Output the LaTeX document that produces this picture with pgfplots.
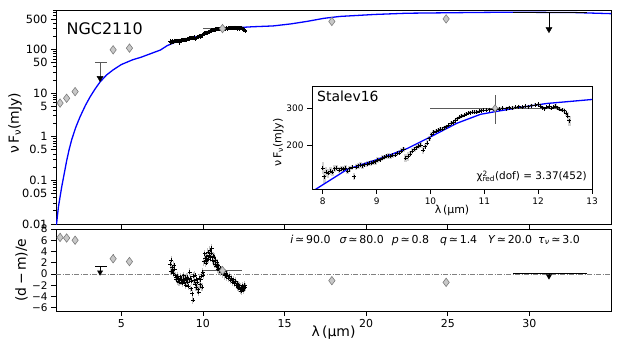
\documentclass[border=0pt]{standalone}
\usepackage{fontspec}
\setmainfont{DejaVu Sans}
\usepackage{pgfplots}
\usepackage{pgfplotstable}
\pgfplotsset{compat=1.18}

\definecolor{ptfill}{RGB}{200,200,200}
\definecolor{ptedge}{RGB}{125,125,125}
\definecolor{barcol}{RGB}{90,90,90}
\definecolor{modelblue}{RGB}{0,0,255}

% model SED
\pgfplotstableread{
lam flux
1.00 0.0092
1.04 0.0105
1.10 0.017
1.15 0.025
1.25 0.042
1.35 0.071
1.50 0.14
1.66 0.29
1.80 0.50
1.96 0.85
2.20 1.6
2.47 2.84
2.80 5.2
3.09 8.2
3.40 12.5
3.70 18
4.10 26
4.50 34
5.00 45
5.70 58
6.20 66
6.80 80
7.40 97
7.81 122
8.46 155
9.01 172
9.57 194
10.00 220
10.49 255
10.93 281
11.23 290
11.67 303
12.16 316
13.00 330
14.30 345
15.40 385
16.40 440
17.40 515
18.40 570
20.50 632
22.50 675
26.60 702
28.70 712
32.70 700
35.00 660
}\model

% Spitzer spectrum: wavelength, flux, error, residual
\pgfplotstableread{
lam flux err res
8.00 157 10 1.8
8.03 143 10 0.5
8.06 150 8 2.5
8.10 148 7 1.2
8.14 152 6 0.6
8.18 150 6 0.1
8.22 156 6 1.6
8.26 157 5 0.9
8.30 153 5 -0.3
8.34 156 5 -0.6
8.38 155 5 -1.0
8.42 157 5 -0.4
8.46 152 5 -1.3
8.50 156 5 -0.8
8.54 158 5 -1.5
8.58 143 5 -1.1
8.62 159 5 -0.5
8.66 161 5 -1.2
8.70 162 5 -0.9
8.74 161 5 -1.7
8.78 163 5 -1.0
8.82 164 5 -0.3
8.86 165 5 -1.4
8.90 166 5 -0.7
8.94 167 5 -2.0
8.98 168 5 -1.2
9.02 171 5 -0.6
9.06 172 5 -1.5
9.10 175 5 -2.2
9.14 176 5 -1.0
9.18 178 5 0.3
9.22 179 5 -0.8
9.26 178 5 -2.6
9.30 180 5 -1.3
9.34 181 5 -3.5
9.38 184 5 -4.6
9.42 185 5 -0.4
9.46 189 5 -1.2
9.50 192 6 -0.2
9.54 175 8 -1.8
9.58 178 8 -2.4
9.62 182 6 -0.9
9.66 188 6 -1.5
9.70 192 6 -2.8
9.74 196 6 -3.3
9.78 199 6 -0.8
9.82 201 6 -1.9
9.86 190 8 -1.0
9.90 198 6 -0.4
9.94 206 6 -2.3
9.98 216 6 0.3
10.02 225 6 -0.2
10.06 232 5 2.2
10.10 234 5 3.6
10.14 236 5 2.8
10.18 239 5 1.9
10.22 240 5 3.1
10.26 243 5 2.5
10.30 246 5 3.9
10.34 250 5 2.7
10.38 255 5 3.4
10.42 257 5 4.3
10.46 262 5 2.9
10.50 268 5 3.7
10.54 272 5 4.6
10.58 276 5 2.4
10.62 278 5 3.2
10.66 282 5 2.2
10.70 284 5 3.0
10.74 286 5 1.7
10.78 287 5 2.5
10.82 288 5 1.4
10.86 288 5 2.0
10.90 290 5 0.9
10.94 292 5 1.5
10.98 293 5 0.6
11.04 295 5 1.0
11.10 296 5 0.3
11.16 297 5 0.7
11.22 299 5 -0.1
11.28 298 5 0.4
11.34 300 5 -0.3
11.40 299 5 0.1
11.46 302 5 -0.5
11.52 301 5 -0.2
11.58 304 5 -0.8
11.64 305 5 -0.4
11.70 303 5 -1.1
11.76 307 5 -0.7
11.82 305 5 -1.4
11.88 309 5 -1.0
11.94 311 5 -1.6
12.00 313 5 -1.3
12.04 308 5 -2.0
12.08 302 5 -1.7
12.12 299 5 -2.3
12.16 304 5 -1.9
12.20 306 5 -2.5
12.24 301 6 -2.1
12.28 303 6 -2.8
12.32 307 6 -2.4
12.36 302 6 -3.0
12.40 298 6 -2.6
12.44 294 7 -2.2
12.48 292 8 -2.9
12.52 285 10 -2.5
12.55 275 12 -2.0
12.58 262 15 -2.3
}\spec

% photometry: wavelength, flux, error, residual, residual error
\pgfplotstableread{
lam flux ferr res rerr
1.25 5.9 0.6 6.5 0.7
1.65 7.6 0.7 6.4 0.7
2.17 10.8 1.0 6.0 0.7
4.50 98 18 2.7 0.8
5.50 107 18 2.2 0.8
17.9 437 40 -1.2 0.6
24.9 500 50 -1.5 0.6
}\phot

\begin{document}
\begin{tikzpicture}
\path[use as bounding box] (0,0) rectangle (623bp,-346bp);
\pgfplotsset{
  every axis/.append style={
    scale only axis,
    /pgf/number format/assume math mode=true,
    axis line style={black, line width=0.9bp},
    tick style={black, line width=0.8bp},
    major tick length=5bp, minor tick length=2.5bp,
    tick align=outside, tick pos=left,
  },
  phot/.style={only marks, mark=diamond*, mark size=4.2bp,
    mark options={fill=ptfill, draw=ptedge, line width=0.6bp},
    error bars/.cd, y dir=both, y explicit,
    error bar style={ptedge, line width=0.8bp}, error mark=none},
}

% ---------------- SED panel ----------------
\begin{axis}[
  at={(56bp,-10bp)}, anchor=north west,
  width=555bp, height=214bp,
  ymode=log, xmin=1, xmax=35, ymin=0.01, ymax=800,
  xtick={5,10,...,30}, xticklabels={},
  ytick={0.01,0.05,0.1,0.5,1,5,10,50,100,500},
  yticklabels={0.01,0.05,0.1,0.5,1,5,10,50,100,500},
  minor ytick={0.02,0.03,0.04,0.06,0.07,0.08,0.09,0.2,0.3,0.4,0.6,0.7,0.8,0.9,
    2,3,4,6,7,8,9,20,30,40,60,70,80,90,200,300,400,600,700,800},
  yticklabel style={font=\fontsize{11.4}{13}\selectfont},
  ylabel={ν\,F\textsubscript{ν}(mJy)},
  every axis y label/.style={at={(axis description cs:-0.074,0.47)}, anchor=center, rotate=90,
    font=\fontsize{14}{16}\selectfont},
]
\addplot[modelblue, line width=1.3bp] table[x=lam,y=flux] {\model};
\addplot[black, only marks, mark=+, mark size=2bp, line width=0.6bp] table[x=lam,y=flux] {\spec};
\addplot[phot] table[x=lam,y=flux,y error=ferr] {\phot};
% IRS photometric point
\addplot[only marks, mark=diamond*, mark size=4.2bp,
  mark options={fill=ptfill, draw=ptedge, line width=0.6bp},
  error bars/.cd, x dir=both, x explicit, error bar style={barcol, line width=0.8bp}, error mark=none]
  coordinates {(11.2,300) +- (1.2,0)};
% upper limits
\addplot[barcol, line width=0.9bp] coordinates {(3.4,51) (4.1,51)};
\addplot[barcol, line width=0.9bp] coordinates {(3.7,51) (3.7,22)};
\addplot[black, line width=0.9bp] coordinates {(29.0,716) (33.5,716)};
\addplot[black, line width=0.9bp] coordinates {(31.2,716) (31.2,290)};
\addplot[only marks, mark=triangle*, mark size=3.5bp, mark options={rotate=180, fill=black, draw=black}]
  coordinates {(3.7,22) (31.2,290)};
\node[anchor=north west, inner sep=0pt, font=\fontsize{16}{18}\selectfont]
  at (axis description cs:0,1) [xshift=10.5bp, yshift=-12.5bp] {NGC2110};
\end{axis}

% ---------------- residual panel ----------------
\begin{axis}[
  at={(56bp,-229bp)}, anchor=north west,
  width=555bp, height=82bp,
  xmin=1, xmax=35, ymin=-6.6, ymax=8,
  xtick={5,10,...,30}, xticklabels={5,10,15,20,25,30},
  ytick={-6,-4,...,8}, yticklabels={−6,−4,−2,0,2,4,6,8},
  yticklabel style={font=\fontsize{10.5}{11}\selectfont},
  xticklabel style={font=\fontsize{11}{13}\selectfont},
  xlabel={λ\,(μm)}, ylabel={(d\,−\,m)/e},
  every axis x label/.style={at={(axis description cs:0.5,-0.27)}, anchor=center,
    font=\fontsize{14}{16}\selectfont},
  every axis y label/.style={at={(axis description cs:-0.062,0.5)}, anchor=center, rotate=90,
    font=\fontsize{14}{16}\selectfont},
]
\addplot[gray, line width=0.7bp, dash pattern=on 5bp off 1.5bp on 1bp off 1.5bp] coordinates {(1,0) (35,0)};
\addplot[only marks, mark=+, mark size=2bp, black, line width=0.5bp,
  error bars/.cd, y dir=both, y fixed=0.7, error bar style={black!25, line width=1.2bp}, error mark=none]
  table[x=lam,y=res] {\spec};
\addplot[phot] table[x=lam,y=res,y error=rerr] {\phot};
\addplot[only marks, mark=diamond*, mark size=4.2bp,
  mark options={fill=ptfill, draw=ptedge, line width=0.6bp},
  error bars/.cd, x dir=both, x explicit, error bar style={barcol, line width=0.8bp}, error mark=none]
  coordinates {(11.2,0.6) +- (1.2,0)};
\addplot[black, line width=0.9bp] coordinates {(3.4,1.3) (4.1,1.3)};
\addplot[black, line width=0.9bp] coordinates {(3.7,1.3) (3.7,0.3)};
\addplot[black, line width=0.9bp] coordinates {(29.0,0.1) (33.5,0.1)};
\addplot[black, line width=0.9bp] coordinates {(31.2,0.1) (31.2,-0.4)};
\addplot[only marks, mark=triangle*, mark size=3bp, mark options={rotate=180, fill=black, draw=black}]
  coordinates {(3.7,0.3) (31.2,-0.4)};
\node[anchor=base east, inner sep=0pt, font=\fontsize{11}{12}\selectfont]
  at (axis description cs:1,1) [xshift=-31bp, yshift=-14bp]
  {{\itshape i}\,≃\,90.0\hspace{9bp}{\itshape σ}\,≃\,80.0\hspace{8bp}{\itshape p}\,≃\,0.8\hspace{11bp}{\itshape q}\,≃\,1.4\hspace{11bp}{\itshape Y}\,≃\,20.0\hspace{6bp}{\itshape τ}\textsubscript{\itshape ν}\,≃\,3.0};
\end{axis}

% ---------------- inset ----------------
\begin{axis}[
  at={(312bp,-86bp)}, anchor=north west,
  width=280bp, height=103bp,
  axis background/.style={fill=white},
  ymode=log, xmin=7.8, xmax=13, ymin=125, ymax=382,
  xtick={8,9,...,13}, xticklabels={8,9,10,11,12,13},
  ytick={200,300}, yticklabels={200,300}, minor ytick={},
  ticklabel style={font=\fontsize{9}{10}\selectfont},
  xlabel={λ\,(μm)}, ylabel={ν\,F\textsubscript{ν}(mJy)},
  every axis x label/.style={at={(axis description cs:0.5,-0.21)}, anchor=center,
    font=\fontsize{11}{12}\selectfont},
  every axis y label/.style={at={(axis description cs:-0.12,0.45)}, anchor=center, rotate=90,
    font=\fontsize{11}{12}\selectfont},
]
\addplot[draw=none, mark=none, forget plot,
  error bars/.cd, y dir=both, y explicit, error bar style={black!18, line width=2.5bp}, error mark=none]
  table[x=lam,y=flux,y error=err] {\spec};
\addplot[black, only marks, mark=+, mark size=2bp, line width=0.6bp] table[x=lam,y=flux] {\spec};
\addplot[modelblue, line width=1.3bp] table[x=lam,y=flux] {\model};
\addplot[only marks, mark=diamond*, mark size=3.5bp,
  mark options={fill=ptfill, draw=ptedge, line width=0.6bp},
  error bars/.cd, x dir=both, y dir=both, x explicit, y explicit,
  error bar style={barcol, line width=0.8bp}, error mark=none]
  coordinates {(11.2,300) +- (1.2,48)};
\node[anchor=north west, inner sep=0pt, font=\fontsize{14}{16}\selectfont]
  at (axis description cs:0,1) [xshift=5bp, yshift=-5bp] {Stalev16};
\node[anchor=base east, inner sep=0pt, font=\fontsize{10.5}{12}\selectfont]
  at (axis description cs:1,0) [xshift=-5bp, yshift=9bp]
  {χ\rlap{\textsuperscript{2}}\textsubscript{red}(dof) = 3.37(452)};
\end{axis}
\end{tikzpicture}
\end{document}
